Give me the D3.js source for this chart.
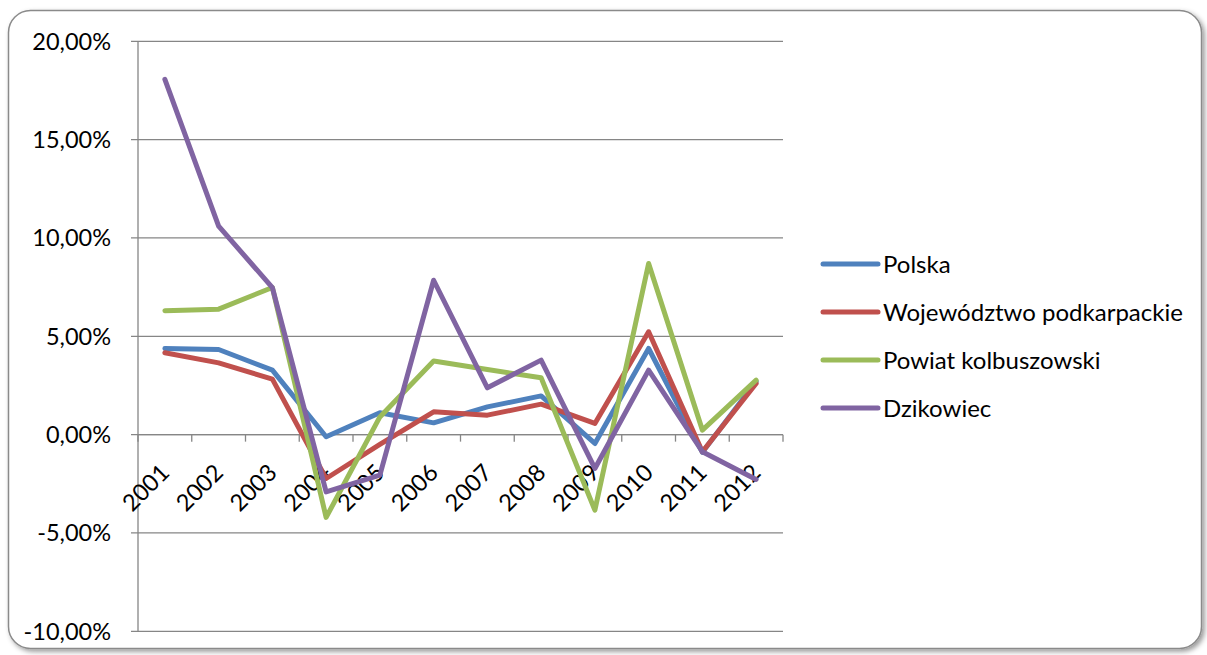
<!DOCTYPE html>
<html><head><meta charset="utf-8">
<script src="https://cdn.jsdelivr.net/npm/d3@7"></script>
<style>body{margin:0;background:#fff}svg{display:block}text{font-family:Lato,"Open Sans",sans-serif}</style>
</head><body><svg id="c" width="1207" height="655"></svg>
<script>
const years = ["2001","2002","2003","2004","2005","2006","2007","2008","2009","2010","2011","2012"];
const seriesNames = ["Polska","Województwo podkarpackie","Powiat kolbuszowski","Dzikowiec"];
const polska = [4.38,4.33,3.28,-0.11,1.11,0.60,1.41,1.97,-0.45,4.38,-0.90,2.70];
const wojewodztwo = [4.16,3.65,2.82,-2.23,-0.50,1.16,0.99,1.55,0.57,5.23,-0.87,2.60];
const powiat = [6.30,6.38,7.48,-4.21,0.90,3.74,3.31,2.89,-3.84,8.70,0.23,2.77];
const dzikowiec = [18.06,10.60,7.48,-2.91,-2.06,7.85,2.38,3.79,-1.72,3.28,-0.87,-2.28];
const yTicks = [-10,-5,0,5,10,15,20];
const colors = ["#4F81BD","#C0504D","#9BBB59","#8064A2"];
const allSeries = [polska,wojewodztwo,powiat,dzikowiec];

const plLocale = d3.formatLocale({decimal:",", thousands:" ", grouping:[3], currency:["",""], minus:"-"});
const fmt = plLocale.format(".2f");

const svg = d3.select("#c");
const defs = svg.append("defs");
const f = defs.append("filter").attr("id","sh").attr("x","-5%").attr("y","-5%").attr("width","110%").attr("height","110%");
f.append("feDropShadow").attr("dx",2.5).attr("dy",2.5).attr("stdDeviation",2.5).attr("flood-color","#000").attr("flood-opacity",0.4);

svg.append("rect").attr("x",8.5).attr("y",10.5).attr("width",1193).attr("height",638).attr("rx",22).attr("ry",22)
  .attr("fill","#fff").attr("stroke","#8a8a8a").attr("stroke-width",1.5).attr("filter","url(#sh)");

const L=138, R=783, T=41.3, B=631.3;
const x = d3.scaleBand().domain(years).range([L,R]);
const y = d3.scaleLinear().domain([-10,20]).range([B,T]);
const fs = 23.5;

// gridlines
svg.append("g").selectAll("line").data(yTicks).join("line")
  .attr("x1",L-7).attr("x2",R).attr("y1",d=>y(d)).attr("y2",d=>y(d))
  .attr("stroke","#868686").attr("stroke-width",1.3);
// y axis line
svg.append("line").attr("x1",L).attr("x2",L).attr("y1",T).attr("y2",B).attr("stroke","#868686").attr("stroke-width",1.3);
// y labels
svg.append("g").selectAll("text").data(yTicks).join("text")
  .attr("x",111).attr("y",d=>y(d)).attr("dy","0.36em").attr("text-anchor","end")
  .attr("font-size",fs).attr("fill","#000")
  .text(d=>fmt(d)+"%");
// x axis ticks at band boundaries
const bounds = years.map(d=>x(d)).concat([R]);
svg.append("g").selectAll("line").data(bounds).join("line")
  .attr("x1",d=>d).attr("x2",d=>d).attr("y1",y(0)).attr("y2",y(0)+7)
  .attr("stroke","#868686").attr("stroke-width",1.3);
svg.append("line").attr("x1",L).attr("x2",R).attr("y1",y(0)).attr("y2",y(0)).attr("stroke","#868686").attr("stroke-width",1.3);

// x labels (beneath the series lines)
svg.append("g").selectAll("text").data(years).join("text")
  .attr("transform",d=>`translate(${x(d)+x.bandwidth()/2+6},${y(0)+39.5}) rotate(-45)`)
  .attr("text-anchor","end").attr("font-size",fs).attr("fill","#000").text(d=>d);

// lines
const line = d3.line().x((d,i)=>x(years[i])+x.bandwidth()/2).y(d=>y(d));
allSeries.forEach((s,k)=>{
  svg.append("path").datum(s).attr("d",line).attr("fill","none")
    .attr("stroke",colors[k]).attr("stroke-width",5).attr("stroke-linejoin","round").attr("stroke-linecap","round");
});

// legend
const lg = svg.append("g");
seriesNames.forEach((n,k)=>{
  const yy = 264 + k*48;
  lg.append("line").attr("x1",823).attr("x2",878).attr("y1",yy).attr("y2",yy)
    .attr("stroke",colors[k]).attr("stroke-width",5).attr("stroke-linecap","round");
  lg.append("text").attr("x",883).attr("y",yy).attr("dy","0.36em").attr("font-size",24).attr("fill","#000").text(n);
});
</script></body></html>
